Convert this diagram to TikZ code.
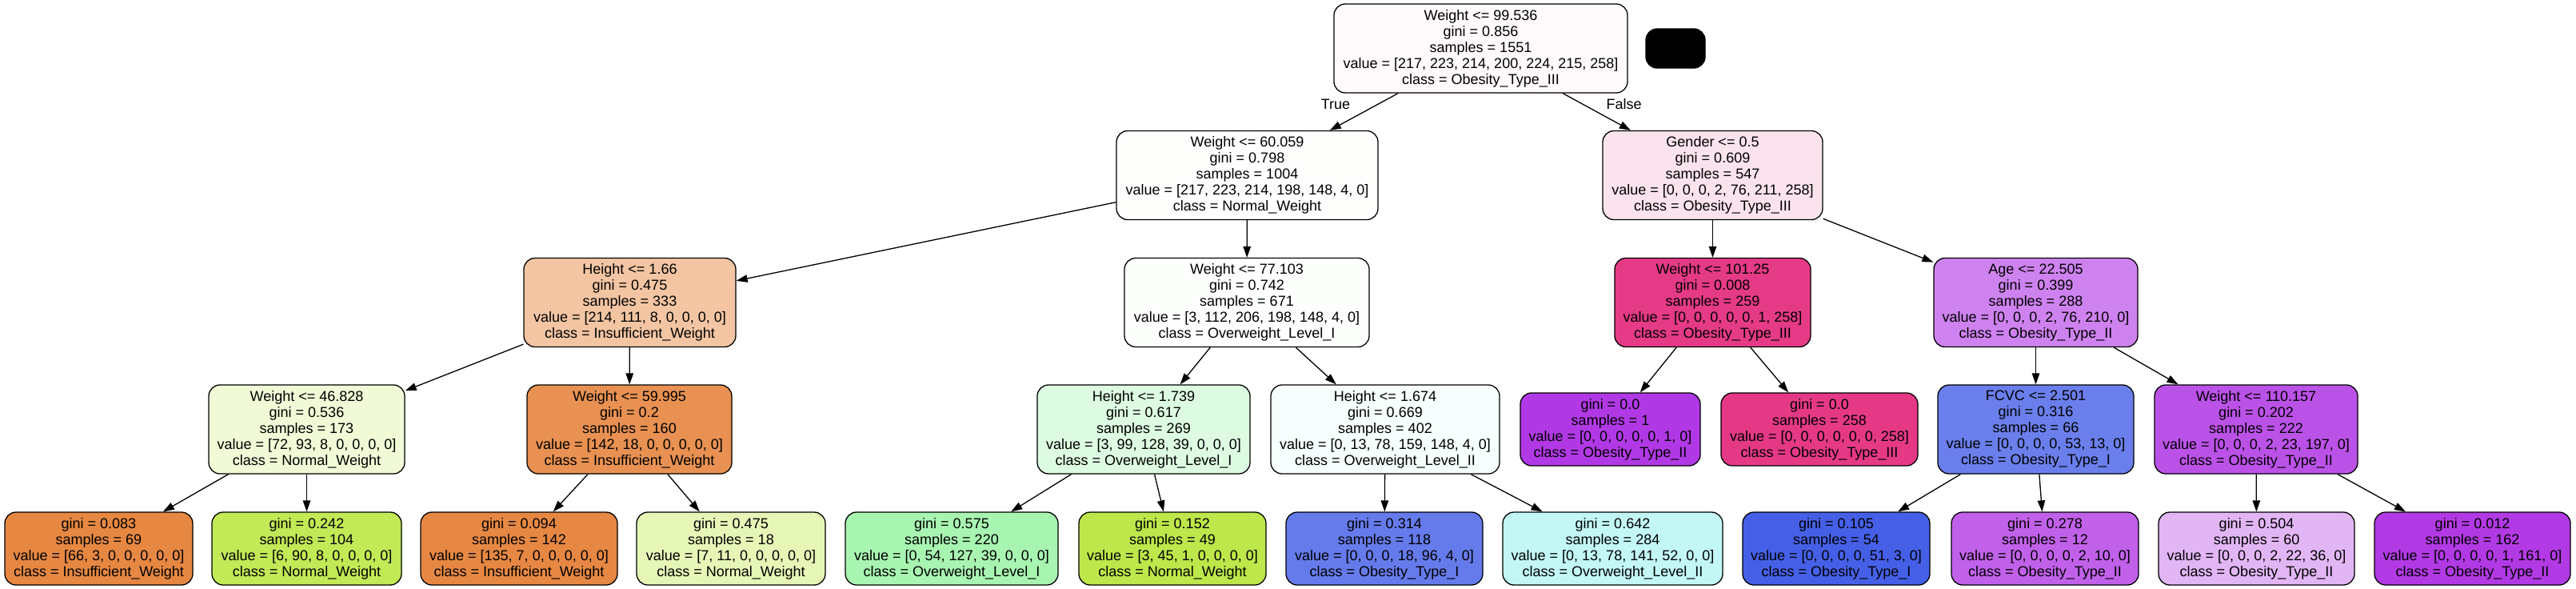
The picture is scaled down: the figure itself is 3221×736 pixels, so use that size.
\documentclass[tikz,border=0pt]{standalone}
\usepackage{fontspec}
\setmainfont{Liberation Sans}
\usetikzlibrary{arrows.meta}
\definecolor{cRoot}{HTML}{FEFAFC}
\definecolor{cWsix}{HTML}{FEFFFD}
\definecolor{cGender}{HTML}{FBE3EE}
\definecolor{cHone}{HTML}{F3C5A3}
\definecolor{cWseven}{HTML}{FCFFFC}
\definecolor{cWhundred}{HTML}{E53A86}
\definecolor{cAge}{HTML}{CE82EF}
\definecolor{cWfour}{HTML}{F0FAD6}
\definecolor{cWfive}{HTML}{E89152}
\definecolor{cHseven}{HTML}{DDFBE1}
\definecolor{cHsix}{HTML}{F6FEFE}
\definecolor{cPurple}{HTML}{B139E5}
\definecolor{cPink}{HTML}{E53986}
\definecolor{cFCVC}{HTML}{6A7FEB}
\definecolor{cWoneten}{HTML}{BB52E8}
\definecolor{cLa}{HTML}{E68742}
\definecolor{cLb}{HTML}{C2E956}
\definecolor{cLc}{HTML}{E68843}
\definecolor{cLd}{HTML}{E5F6B7}
\definecolor{cLe}{HTML}{A8F4B1}
\definecolor{cLf}{HTML}{BDE74A}
\definecolor{cLg}{HTML}{657BEB}
\definecolor{cLh}{HTML}{C2F7F6}
\definecolor{cLi}{HTML}{4560E7}
\definecolor{cLj}{HTML}{C161EA}
\definecolor{cLk}{HTML}{E2B6F5}
\definecolor{cLl}{HTML}{B23AE5}
\tikzset{
  tn/.style={draw=black, line width=1.3pt, rounded corners=14pt, align=center,
    inner sep=0pt, font=\fontsize{18pt}{20pt}\selectfont},
  intn/.style={tn, minimum height=111pt},
  leafn/.style={tn, minimum height=91pt},
  conn/.style={-{Triangle[length=14pt,width=9.5pt]}, line width=1.3pt},
  lbl/.style={font=\fontsize{18pt}{20pt}\selectfont, inner sep=0pt}
}
\begin{document}
\begin{tikzpicture}[x=1pt,y=1pt]
\useasboundingbox (0,0) rectangle (3221,-736);
% level 0
\node[intn, fill=cRoot, minimum width=367pt] (root) at (1851.5,-60.5)
  {Weight <= 99.536\\gini = 0.856\\samples = 1551\\value = [217, 223, 214, 200, 224, 215, 258]\\class = Obesity\_Type\_III};
\node[draw=black, fill=black, line width=1.3pt, rounded corners=14pt, minimum width=74pt, minimum height=49pt, inner sep=0pt] (blk) at (2095,-60.5) {};
% level 1
\node[intn, fill=cWsix, minimum width=327pt] (w60) at (1559.5,-219)
  {Weight <= 60.059\\gini = 0.798\\samples = 1004\\value = [217, 223, 214, 198, 148, 4, 0]\\class = Normal\_Weight};
\node[intn, fill=cGender, minimum width=275pt] (gen) at (2141.5,-219)
  {Gender <= 0.5\\gini = 0.609\\samples = 547\\value = [0, 0, 0, 2, 76, 211, 258]\\class = Obesity\_Type\_III};
% level 2
\node[intn, fill=cHone, minimum width=265pt] (h166) at (787.5,-378)
  {Height <= 1.66\\gini = 0.475\\samples = 333\\value = [214, 111, 8, 0, 0, 0, 0]\\class = Insufficient\_Weight};
\node[intn, fill=cWseven, minimum width=306pt] (w77) at (1559,-378)
  {Weight <= 77.103\\gini = 0.742\\samples = 671\\value = [3, 112, 206, 198, 148, 4, 0]\\class = Overweight\_Level\_I};
\node[intn, fill=cWhundred, minimum width=245pt] (w101) at (2141.5,-378)
  {Weight <= 101.25\\gini = 0.008\\samples = 259\\value = [0, 0, 0, 0, 0, 1, 258]\\class = Obesity\_Type\_III};
\node[intn, fill=cAge, minimum width=255pt] (age) at (2545.5,-378)
  {Age <= 22.505\\gini = 0.399\\samples = 288\\value = [0, 0, 0, 2, 76, 210, 0]\\class = Obesity\_Type\_II};
% level 3
\node[intn, fill=cWfour, minimum width=245pt] (w46) at (383.5,-536.5)
  {Weight <= 46.828\\gini = 0.536\\samples = 173\\value = [72, 93, 8, 0, 0, 0, 0]\\class = Normal\_Weight};
\node[intn, fill=cWfive, minimum width=256pt] (w59) at (787,-536.5)
  {Weight <= 59.995\\gini = 0.2\\samples = 160\\value = [142, 18, 0, 0, 0, 0, 0]\\class = Insufficient\_Weight};
\node[intn, fill=cHseven, minimum width=266pt] (h1739) at (1430,-536.5)
  {Height <= 1.739\\gini = 0.617\\samples = 269\\value = [3, 99, 128, 39, 0, 0, 0]\\class = Overweight\_Level\_I};
\node[intn, fill=cHsix, minimum width=286pt] (h1674) at (1732,-536.5)
  {Height <= 1.674\\gini = 0.669\\samples = 402\\value = [0, 13, 78, 159, 148, 4, 0]\\class = Overweight\_Level\_II};
\node[leafn, fill=cPurple, minimum width=225pt] (lp) at (2013.5,-536.5)
  {gini = 0.0\\samples = 1\\value = [0, 0, 0, 0, 0, 1, 0]\\class = Obesity\_Type\_II};
\node[leafn, fill=cPink, minimum width=246pt] (lk) at (2275,-536.5)
  {gini = 0.0\\samples = 258\\value = [0, 0, 0, 0, 0, 0, 258]\\class = Obesity\_Type\_III};
\node[intn, fill=cFCVC, minimum width=245pt] (fcvc) at (2545.5,-536.5)
  {FCVC <= 2.501\\gini = 0.316\\samples = 66\\value = [0, 0, 0, 0, 53, 13, 0]\\class = Obesity\_Type\_I};
\node[intn, fill=cWoneten, minimum width=254pt] (w110) at (2821,-536.5)
  {Weight <= 110.157\\gini = 0.202\\samples = 222\\value = [0, 0, 0, 2, 23, 197, 0]\\class = Obesity\_Type\_II};
% level 4
\node[leafn, fill=cLa, minimum width=235pt] (la) at (123.5,-685.5)
  {gini = 0.083\\samples = 69\\value = [66, 3, 0, 0, 0, 0, 0]\\class = Insufficient\_Weight};
\node[leafn, fill=cLb, minimum width=237pt] (lb) at (383.5,-685.5)
  {gini = 0.242\\samples = 104\\value = [6, 90, 8, 0, 0, 0, 0]\\class = Normal\_Weight};
\node[leafn, fill=cLc, minimum width=246pt] (lc) at (649,-685.5)
  {gini = 0.094\\samples = 142\\value = [135, 7, 0, 0, 0, 0, 0]\\class = Insufficient\_Weight};
\node[leafn, fill=cLd, minimum width=236pt] (ld) at (914,-685.5)
  {gini = 0.475\\samples = 18\\value = [7, 11, 0, 0, 0, 0, 0]\\class = Normal\_Weight};
\node[leafn, fill=cLe, minimum width=266pt] (le) at (1190,-685.5)
  {gini = 0.575\\samples = 220\\value = [0, 54, 127, 39, 0, 0, 0]\\class = Overweight\_Level\_I};
\node[leafn, fill=cLf, minimum width=234pt] (lf) at (1466,-685.5)
  {gini = 0.152\\samples = 49\\value = [3, 45, 1, 0, 0, 0, 0]\\class = Normal\_Weight};
\node[leafn, fill=cLg, minimum width=246pt] (lg) at (1731,-685.5)
  {gini = 0.314\\samples = 118\\value = [0, 0, 0, 18, 96, 4, 0]\\class = Obesity\_Type\_I};
\node[leafn, fill=cLh, minimum width=275pt] (lh) at (2016.5,-685.5)
  {gini = 0.642\\samples = 284\\value = [0, 13, 78, 141, 52, 0, 0]\\class = Overweight\_Level\_II};
\node[leafn, fill=cLi, minimum width=234pt] (li) at (2296,-685.5)
  {gini = 0.105\\samples = 54\\value = [0, 0, 0, 0, 51, 3, 0]\\class = Obesity\_Type\_I};
\node[leafn, fill=cLj, minimum width=234pt] (lj) at (2557,-685.5)
  {gini = 0.278\\samples = 12\\value = [0, 0, 0, 0, 2, 10, 0]\\class = Obesity\_Type\_II};
\node[leafn, fill=cLk, minimum width=245pt] (lk2) at (2821.5,-685.5)
  {gini = 0.504\\samples = 60\\value = [0, 0, 0, 2, 22, 36, 0]\\class = Obesity\_Type\_II};
\node[leafn, fill=cLl, minimum width=245pt] (ll) at (3091.5,-685.5)
  {gini = 0.012\\samples = 162\\value = [0, 0, 0, 0, 1, 161, 0]\\class = Obesity\_Type\_II};
% labels
\node[lbl] (ltrue) at (1670,-130.5) {True};
\node[lbl] (lfalse) at (2030.5,-130.5) {False};
% edges
\draw[conn] (root) -- (w60);
\draw[conn] (root) -- (gen);
\draw[conn] (w60) -- (h166);
\draw[conn] (w60) -- (w77);
\draw[conn] (gen) -- (w101);
\draw[conn] (gen) -- (age);
\draw[conn] (h166) -- (w46);
\draw[conn] (h166) -- (w59);
\draw[conn] (w77) -- (h1739);
\draw[conn] (w77) -- (h1674);
\draw[conn] (w101) -- (lp);
\draw[conn] (w101) -- (lk);
\draw[conn] (age) -- (fcvc);
\draw[conn] (age) -- (w110);
\draw[conn] (w46) -- (la);
\draw[conn] (w46) -- (lb);
\draw[conn] (w59) -- (lc);
\draw[conn] (w59) -- (ld);
\draw[conn] (h1739) -- (le);
\draw[conn] (h1739) -- (lf);
\draw[conn] (h1674) -- (lg);
\draw[conn] (h1674) -- (lh);
\draw[conn] (fcvc) -- (li);
\draw[conn] (fcvc) -- (lj);
\draw[conn] (w110) -- (lk2);
\draw[conn] (w110) -- (ll);
\end{tikzpicture}
\end{document}
